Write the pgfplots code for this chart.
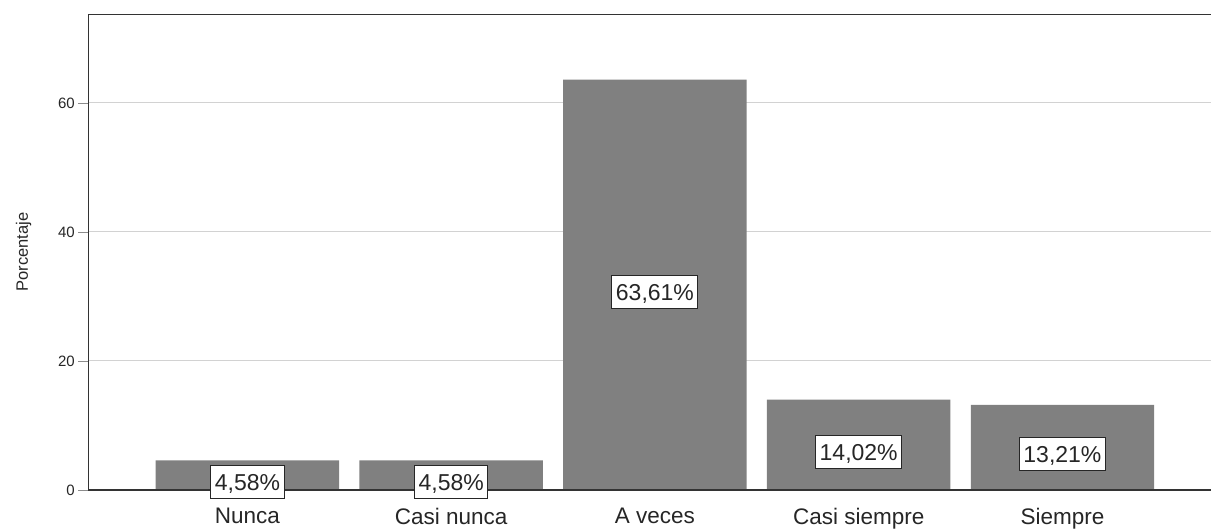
\documentclass[border=0pt]{standalone}
\usepackage{fontspec}
\setmainfont{Liberation Sans}
\usepackage{pgfplots}
\usepackage{pgfplotstable}
\pgfplotsset{compat=1.18}
\definecolor{barg}{RGB}{128,128,128}
\definecolor{gridg}{RGB}{210,210,210}
\pgfplotstableread{
x y
0 4.58
1 4.58
2 63.61
3 14.02
4 13.21
}\datatable
\begin{document}
\begin{tikzpicture}
\begin{axis}[
  name=ax,
  scale only axis,
  width=1122.7pt, height=475.7pt,
  xmin=-0.781, xmax=4.729,
  ymin=0, ymax=73.75,
  axis x line=box, axis y line=left,
  axis line style={-, black!80, line width=1.1pt},
  /pgf/number format/assume math mode=true,
  xtick={0,1,2,3,4},
  xticklabels={Nunca, Casi nunca, A veces, Casi siempre, Siempre},
  xtick style={draw=none},
  ytick={0,20,40,60},
  ytick style={black!45, line width=0.9pt},
  tick align=outside,
  major tick length=10pt,
  ymajorgrids,
  grid style={gridg, line width=1pt},
  xticklabel style={font=\fontsize{22.5}{27}\selectfont, text=black!85, yshift=-4.5pt},
  yticklabel style={font=\fontsize{15}{18}\selectfont, text=black!85},
  ylabel={Porcentaje},
  ylabel style={font=\fontsize{16.5}{20}\selectfont, text=black!85},
  ylabel shift=20pt,
  clip=false,
]
\addplot[ybar, bar width=0.9, fill=barg, draw=none] table[x=x, y=y] {\datatable};
\addplot[draw=none, mark=none, point meta=\thisrow{y},
  nodes near coords={\pgfmathprintnumber[fixed, fixed zerofill, precision=2, use comma, assume math mode=true]{\pgfplotspointmeta}\%},
  every node near coord/.append style={anchor=center, yshift=-7pt, fill=white, draw=black!85, line width=1pt,
    font=\fontsize{23}{27}\selectfont, text=black!85, inner xsep=4pt, inner ysep=0pt, text height=25pt, text depth=8pt}
] table[x=x, y expr=\thisrow{y}/2] {\datatable};
\draw[black!80, line width=1.1pt] (rel axis cs:0,0) -- (rel axis cs:1,0);
\end{axis}
\pgfresetboundingbox
\path[use as bounding box] (ax.south west) ++(-88.3pt,-38pt) rectangle ++(1211pt,528pt);
\end{tikzpicture}
\end{document}
